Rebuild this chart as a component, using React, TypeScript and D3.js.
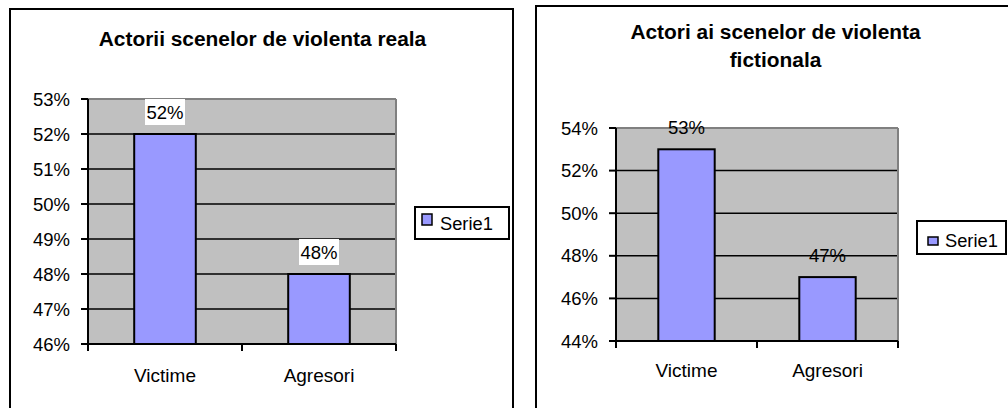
import React from "react";
import * as d3 from "d3";

const categories = ["Victime", "Agresori"];
const realValues = [0.52, 0.48];
const fictionValues = [0.53, 0.47];
const realTicks = [0.46, 0.47, 0.48, 0.49, 0.5, 0.51, 0.52, 0.53];
const fictionTicks = [0.44, 0.46, 0.48, 0.5, 0.52, 0.54];
const seriesName = "Serie1";

const FONT = "'Liberation Sans', Arial, Helvetica, sans-serif";
const fmt = d3.format(".0%");

type ChartProps = {
  frame: { x: number; y: number; w: number; h: number };
  titleLines: string[];
  titleX: number;
  titleY: number[];
  plot: { x0: number; x1: number; y0: number; y1: number };
  domain: [number, number];
  ticks: number[];
  values: number[];
  labelBg: boolean;
  catY: number;
  legend: { x: number; y: number; w: number; h: number; sx: number; sy: number; sw: number; sh: number; tx: number; ty: number };
};

function Chart(p: ChartProps) {
  const y = d3.scaleLinear().domain(p.domain).range([p.plot.y1, p.plot.y0]);
  const x = d3.scaleBand<string>().domain(categories).range([p.plot.x0, p.plot.x1]).padding(0);
  const bw = x.bandwidth() * 0.4;
  const fs = 18.5;
  return (
    <g>
      <rect x={p.frame.x} y={p.frame.y} width={p.frame.w} height={p.frame.h} fill="#fff" stroke="#000" strokeWidth={2} />
      {p.titleLines.map((t, i) => (
        <text key={i} x={p.titleX} y={p.titleY[i]} textAnchor="middle" fontFamily={FONT} fontWeight="bold" fontSize={20.9} fill="#000">
          {t}
        </text>
      ))}
      <rect x={p.plot.x0} y={p.plot.y0} width={p.plot.x1 - p.plot.x0} height={p.plot.y1 - p.plot.y0} fill="#c0c0c0" />
      {p.ticks.slice(1, -1).map((t) => (
        <line key={"g" + t} x1={p.plot.x0} x2={p.plot.x1} y1={y(t)} y2={y(t)} stroke="#000" strokeWidth={1.5} />
      ))}
      <line x1={p.plot.x0} x2={p.plot.x1} y1={p.plot.y0} y2={p.plot.y0} stroke="#808080" strokeWidth={2} />
      <line x1={p.plot.x1} x2={p.plot.x1} y1={p.plot.y0} y2={p.plot.y1} stroke="#808080" strokeWidth={2} />
      {categories.map((c, i) => {
        const cx = (x(c) as number) + x.bandwidth() / 2;
        return (
          <rect key={"b" + c} x={cx - bw / 2} y={y(p.values[i])} width={bw} height={p.plot.y1 - y(p.values[i])} fill="#9999ff" stroke="#000" strokeWidth={2} />
        );
      })}
      <line x1={p.plot.x0} x2={p.plot.x0} y1={p.plot.y0} y2={p.plot.y1} stroke="#000" strokeWidth={2} />
      <line x1={p.plot.x0 - 7} x2={p.plot.x1} y1={p.plot.y1} y2={p.plot.y1} stroke="#000" strokeWidth={2} />
      {p.ticks.map((t) => (
        <g key={"t" + t}>
          <line x1={p.plot.x0 - 7} x2={p.plot.x0} y1={y(t)} y2={y(t)} stroke="#000" strokeWidth={2} />
          <text x={p.plot.x0 - 18} y={y(t) + 6.5} textAnchor="end" fontFamily={FONT} fontSize={fs} fill="#000">
            {fmt(t)}
          </text>
        </g>
      ))}
      {[p.plot.x0, ...categories.map((c) => (x(c) as number) + x.bandwidth())].map((xx, i) => (
        <line key={"xt" + i} x1={xx} x2={xx} y1={p.plot.y1} y2={p.plot.y1 + 7} stroke="#000" strokeWidth={2} />
      ))}
      {categories.map((c) => (
        <text key={"c" + c} x={(x(c) as number) + x.bandwidth() / 2} y={p.catY} textAnchor="middle" fontFamily={FONT} fontSize={19} fill="#000">
          {c}
        </text>
      ))}
      {categories.map((c, i) => {
        const cx = (x(c) as number) + x.bandwidth() / 2;
        const cy = y(p.values[i]) - 22;
        return (
          <g key={"l" + c}>
            {p.labelBg && <rect x={cx - 20} y={cy - 13} width={40} height={26} fill="#fff" />}
            <text x={cx} y={cy + 6.5} textAnchor="middle" fontFamily={FONT} fontSize={fs} fill="#000">
              {fmt(p.values[i])}
            </text>
          </g>
        );
      })}
      <rect x={p.legend.x} y={p.legend.y} width={p.legend.w} height={p.legend.h} fill="#fff" stroke="#000" strokeWidth={2} />
      <rect x={p.legend.sx} y={p.legend.sy} width={p.legend.sw} height={p.legend.sh} fill="#9999ff" stroke="#000" strokeWidth={1.5} />
      <text x={p.legend.tx} y={p.legend.ty} fontFamily={FONT} fontSize={18.3} fill="#000">
        {seriesName}
      </text>
    </g>
  );
}

export default function App() {
  return (
    <svg width={1008} height={408} style={{ position: "absolute", left: 0, top: 0, display: "block", background: "#fff" }}>
      <Chart
        frame={{ x: 10, y: 9, w: 503, h: 410 }}
        titleLines={["Actorii scenelor de violenta reala"]}
        titleX={262.5}
        titleY={[45.5]}
        plot={{ x0: 88, x1: 396, y0: 99, y1: 344 }}
        domain={[0.46, 0.53]}
        ticks={realTicks}
        values={realValues}
        labelBg={true}
        catY={382}
        legend={{ x: 415, y: 207, w: 94, h: 32, sx: 422, sy: 214, sw: 10, sh: 11, tx: 440, ty: 229.5 }}
      />
      <Chart
        frame={{ x: 536, y: 6, w: 480, h: 420 }}
        titleLines={["Actori ai scenelor de violenta", "fictionala"]}
        titleX={775.5}
        titleY={[39, 67]}
        plot={{ x0: 616, x1: 898, y0: 128, y1: 341 }}
        domain={[0.44, 0.54]}
        ticks={fictionTicks}
        values={fictionValues}
        labelBg={false}
        catY={377}
        legend={{ x: 917, y: 221, w: 89, h: 33, sx: 928, sy: 237, sw: 10, sh: 8, tx: 945, ty: 246.5 }}
      />
    </svg>
  );
}
